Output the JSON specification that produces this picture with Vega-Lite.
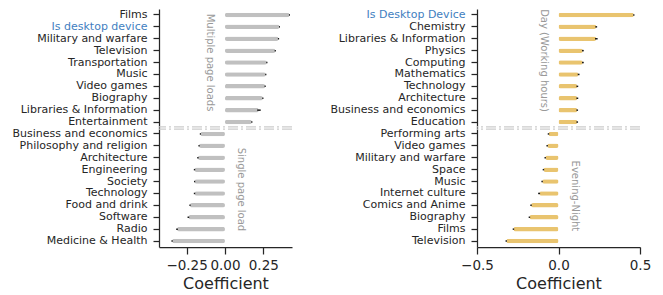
{
  "$schema": "https://vega.github.io/schema/vega-lite/v6.json",
  "background": "white",
  "padding": {"left": 12, "top": 8, "right": 0, "bottom": 0},
  "config": {
    "font": "DejaVu Sans",
    "view": {"stroke": null},
    "concat": {"spacing": 37},
    "axis": {
      "domainColor": "#262626",
      "tickColor": "#262626",
      "labelColor": "#262626",
      "titleColor": "#262626",
      "domainWidth": 1.25,
      "tickWidth": 1.25,
      "grid": false,
      "labelFont": "DejaVu Sans",
      "titleFont": "DejaVu Sans",
      "titleFontWeight": "normal"
    }
  },
  "datasets": {
    "left": [
      {"cat": "Films", "coef": 0.42, "lo": 0.417, "hi": 0.424},
      {"cat": "Is desktop device", "coef": 0.355, "lo": 0.352, "hi": 0.359},
      {"cat": "Military and warfare", "coef": 0.349, "lo": 0.345, "hi": 0.353},
      {"cat": "Television", "coef": 0.328, "lo": 0.324, "hi": 0.332},
      {"cat": "Transportation", "coef": 0.273, "lo": 0.269, "hi": 0.277},
      {"cat": "Music", "coef": 0.266, "lo": 0.262, "hi": 0.27},
      {"cat": "Video games", "coef": 0.262, "lo": 0.258, "hi": 0.266},
      {"cat": "Biography", "coef": 0.247, "lo": 0.243, "hi": 0.251},
      {"cat": "Libraries & Information", "coef": 0.22, "lo": 0.21, "hi": 0.233},
      {"cat": "Entertainment", "coef": 0.175, "lo": 0.171, "hi": 0.179},
      {"cat": "Business and economics", "coef": -0.16, "lo": -0.164, "hi": -0.156},
      {"cat": "Philosophy and religion", "coef": -0.169, "lo": -0.173, "hi": -0.165},
      {"cat": "Architecture", "coef": -0.176, "lo": -0.181, "hi": -0.172},
      {"cat": "Engineering", "coef": -0.198, "lo": -0.203, "hi": -0.194},
      {"cat": "Society", "coef": -0.198, "lo": -0.202, "hi": -0.194},
      {"cat": "Technology", "coef": -0.198, "lo": -0.203, "hi": -0.194},
      {"cat": "Food and drink", "coef": -0.228, "lo": -0.232, "hi": -0.224},
      {"cat": "Software", "coef": -0.238, "lo": -0.244, "hi": -0.233},
      {"cat": "Radio", "coef": -0.312, "lo": -0.318, "hi": -0.307},
      {"cat": "Medicine & Health", "coef": -0.344, "lo": -0.349, "hi": -0.34}
    ],
    "right": [
      {"cat": "Is Desktop Device", "coef": 0.462, "lo": 0.458, "hi": 0.466},
      {"cat": "Chemistry", "coef": 0.231, "lo": 0.226, "hi": 0.237},
      {"cat": "Libraries & Information", "coef": 0.231, "lo": 0.224, "hi": 0.24},
      {"cat": "Physics", "coef": 0.149, "lo": 0.144, "hi": 0.155},
      {"cat": "Computing", "coef": 0.149, "lo": 0.144, "hi": 0.155},
      {"cat": "Mathematics", "coef": 0.123, "lo": 0.118, "hi": 0.129},
      {"cat": "Technology", "coef": 0.115, "lo": 0.11, "hi": 0.121},
      {"cat": "Architecture", "coef": 0.115, "lo": 0.11, "hi": 0.121},
      {"cat": "Business and economics", "coef": 0.115, "lo": 0.11, "hi": 0.12},
      {"cat": "Education", "coef": 0.115, "lo": 0.11, "hi": 0.12},
      {"cat": "Performing arts", "coef": -0.061, "lo": -0.066, "hi": -0.057},
      {"cat": "Video games", "coef": -0.069, "lo": -0.074, "hi": -0.065},
      {"cat": "Military and warfare", "coef": -0.081, "lo": -0.086, "hi": -0.077},
      {"cat": "Space", "coef": -0.092, "lo": -0.097, "hi": -0.088},
      {"cat": "Music", "coef": -0.1, "lo": -0.105, "hi": -0.096},
      {"cat": "Internet culture", "coef": -0.118, "lo": -0.125, "hi": -0.113},
      {"cat": "Comics and Anime", "coef": -0.168, "lo": -0.173, "hi": -0.164},
      {"cat": "Biography", "coef": -0.178, "lo": -0.183, "hi": -0.174},
      {"cat": "Films", "coef": -0.276, "lo": -0.281, "hi": -0.272},
      {"cat": "Television", "coef": -0.32, "lo": -0.325, "hi": -0.316}
    ],
    "leftSep": [{"cat": "Entertainment"}],
    "rightSep": [{"cat": "Education"}],
    "leftTop": [{"cat": "Transportation", "x": -0.1, "label": "Multiple page loads"}],
    "leftBottom": [{"cat": "Technology", "x": 0.104, "label": "Single page load"}],
    "rightTop": [{"cat": "Computing", "x": -0.088, "label": "Day (Working hours)"}],
    "rightBottom": [{"cat": "Internet culture", "x": 0.1, "label": "Evening-Night"}]
  },
  "hconcat": [
    {
      "width": 133,
      "height": 238,
      "encoding": {
        "y": {
          "field": "cat",
          "type": "nominal",
          "title": null,
          "scale": {
            "domain": ["Films", "Is desktop device", "Military and warfare", "Television", "Transportation", "Music", "Video games", "Biography", "Libraries & Information", "Entertainment", "Business and economics", "Philosophy and religion", "Architecture", "Engineering", "Society", "Technology", "Food and drink", "Software", "Radio", "Medicine & Health"],
            "paddingInner": 0,
            "paddingOuter": 0
          },
          "axis": {
            "labelFontSize": 11,
            "tickSize": 6,
            "labelPadding": 6,
            "labelColor": {"condition": {"test": "datum.value === 'Is desktop device'", "value": "#3f80bf"}, "value": "#262626"}
          }
        }
      },
      "layer": [
        {
          "data": {"name": "left"},
          "mark": {"type": "bar", "color": "#c0c0c0", "size": 4.5, "cornerRadius": 2},
          "encoding": {
            "x": {
              "field": "coef",
              "type": "quantitative",
              "title": "Coefficient",
              "scale": {"domain": [-0.43, 0.437], "nice": false, "zero": false},
              "axis": {"values": [-0.25, 0, 0.25], "format": ".2f", "labelOverlap": false, "labelFlush": false, "labelFontSize": 13.5, "tickSize": 7, "labelPadding": 4, "titleFontSize": 16, "titlePadding": 4}
            }
          }
        },
        {
          "data": {"name": "left"},
          "mark": {"type": "rule", "color": "#1a1a1a", "strokeWidth": 1.5},
          "encoding": {
            "x": {"field": "lo", "type": "quantitative", "title": "Coefficient"},
            "x2": {"field": "hi"}
          }
        },
        {
          "data": {"name": "leftSep"},
          "mark": {"type": "rule", "color": "#cccccc", "strokeWidth": 1.3, "strokeDash": [10, 3, 2, 3], "yOffset": -1.2},
          "encoding": {
            "y": {"field": "cat", "type": "nominal", "bandPosition": 1, "title": null}
          }
        },
        {
          "data": {"name": "leftSep"},
          "mark": {"type": "rule", "color": "#cccccc", "strokeWidth": 1.3, "strokeDash": [10, 3, 2, 3], "yOffset": 1.2},
          "encoding": {
            "y": {"field": "cat", "type": "nominal", "bandPosition": 1, "title": null}
          }
        },
        {
          "data": {"name": "leftTop"},
          "mark": {"type": "text", "angle": 90, "fontSize": 10, "color": "#999999", "align": "center", "baseline": "middle"},
          "encoding": {
            "x": {"field": "x", "type": "quantitative", "title": "Coefficient"},
            "text": {"field": "label"}
          }
        },
        {
          "data": {"name": "leftBottom"},
          "mark": {"type": "text", "angle": 90, "fontSize": 10, "color": "#999999", "align": "center", "baseline": "middle", "dx": -4},
          "encoding": {
            "x": {"field": "x", "type": "quantitative", "title": "Coefficient"},
            "text": {"field": "label"}
          }
        }
      ]
    },
    {
      "width": 163,
      "height": 238,
      "encoding": {
        "y": {
          "field": "cat",
          "type": "nominal",
          "title": null,
          "scale": {
            "domain": ["Is Desktop Device", "Chemistry", "Libraries & Information", "Physics", "Computing", "Mathematics", "Technology", "Architecture", "Business and economics", "Education", "Performing arts", "Video games", "Military and warfare", "Space", "Music", "Internet culture", "Comics and Anime", "Biography", "Films", "Television"],
            "paddingInner": 0,
            "paddingOuter": 0
          },
          "axis": {
            "labelFontSize": 11,
            "tickSize": 6,
            "labelPadding": 6,
            "labelColor": {"condition": {"test": "datum.value === 'Is Desktop Device'", "value": "#3f80bf"}, "value": "#262626"}
          }
        }
      },
      "layer": [
        {
          "data": {"name": "right"},
          "mark": {"type": "bar", "color": "#e9c46f", "size": 4.5, "cornerRadius": 2},
          "encoding": {
            "x": {
              "field": "coef",
              "type": "quantitative",
              "title": "Coefficient",
              "scale": {"domain": [-0.5, 0.5], "nice": false, "zero": false},
              "axis": {"values": [-0.5, 0, 0.5], "format": ".1f", "labelOverlap": false, "labelFlush": false, "labelFontSize": 13.5, "tickSize": 7, "labelPadding": 4, "titleFontSize": 16, "titlePadding": 4}
            }
          }
        },
        {
          "data": {"name": "right"},
          "mark": {"type": "rule", "color": "#1a1a1a", "strokeWidth": 1.5},
          "encoding": {
            "x": {"field": "lo", "type": "quantitative", "title": "Coefficient"},
            "x2": {"field": "hi"}
          }
        },
        {
          "data": {"name": "rightSep"},
          "mark": {"type": "rule", "color": "#cccccc", "strokeWidth": 1.3, "strokeDash": [10, 3, 2, 3], "yOffset": -1.2},
          "encoding": {
            "y": {"field": "cat", "type": "nominal", "bandPosition": 1, "title": null}
          }
        },
        {
          "data": {"name": "rightSep"},
          "mark": {"type": "rule", "color": "#cccccc", "strokeWidth": 1.3, "strokeDash": [10, 3, 2, 3], "yOffset": 1.2},
          "encoding": {
            "y": {"field": "cat", "type": "nominal", "bandPosition": 1, "title": null}
          }
        },
        {
          "data": {"name": "rightTop"},
          "mark": {"type": "text", "angle": 90, "fontSize": 10, "color": "#999999", "align": "center", "baseline": "middle", "dx": -2},
          "encoding": {
            "x": {"field": "x", "type": "quantitative", "title": "Coefficient"},
            "text": {"field": "label"}
          }
        },
        {
          "data": {"name": "rightBottom"},
          "mark": {"type": "text", "angle": 90, "fontSize": 10, "color": "#999999", "align": "center", "baseline": "middle", "dx": 2.5},
          "encoding": {
            "x": {"field": "x", "type": "quantitative", "title": "Coefficient"},
            "text": {"field": "label"}
          }
        }
      ]
    }
  ]
}
